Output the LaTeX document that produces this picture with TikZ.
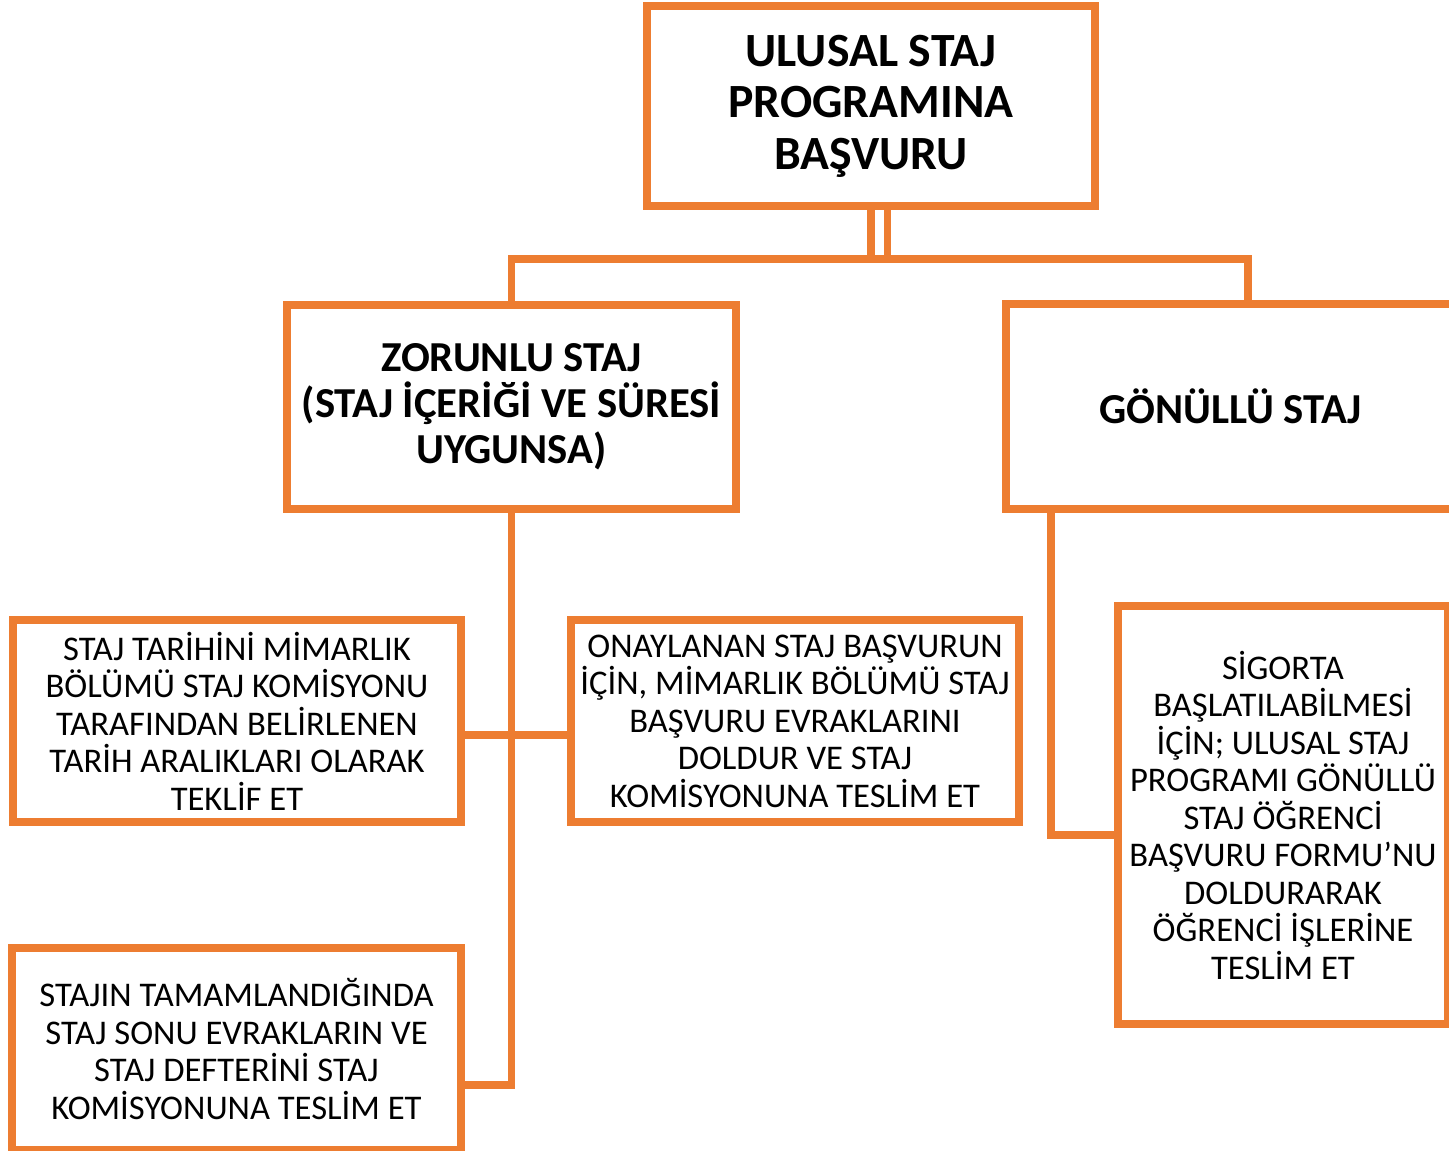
\documentclass[tikz,border=0pt]{standalone}
\usepackage{fontspec}
\setmainfont{Carlito}
\definecolor{acc}{HTML}{ED7D31}
\begin{document}
\begin{tikzpicture}[x=1pt,y=-1pt,
  box/.style={draw=acc,line width=7.5pt,fill=white,rectangle,outer sep=0pt,inner sep=0pt,align=center,text=black},
  big/.style={font=\bfseries\fontsize{47.7}{51.5}\selectfont},
  mid/.style={font=\bfseries\fontsize{42.7}{46}\selectfont},
  small/.style={font=\fontsize{34.6}{37.5}\selectfont},
  conn/.style={draw=acc,line width=7.5pt}]
\useasboundingbox (0,0) rectangle (1449,1151);
\node[box,big,minimum width=448pt,minimum height=200pt] (top) at (871,106) {ULUSAL STAJ\\PROGRAMINA\\BAŞVURU};
\node[box,mid,minimum width=449pt,minimum height=204pt] (zor) at (511.5,407) {ZORUNLU STAJ\\(STAJ İÇERİĞİ VE SÜRESİ\\UYGUNSA)};
\node[box,mid,minimum width=449pt,minimum height=205pt] (gon) at (1230.5,406.5) {GÖNÜLLÜ STAJ};
\node[box,small,minimum width=448pt,minimum height=202pt] (b1) at (237,721) {STAJ TARİHİNİ MİMARLIK\\BÖLÜMÜ STAJ KOMİSYONU\\TARAFINDAN BELİRLENEN\\TARİH ARALIKLARI OLARAK\\TEKLİF ET};
\node[box,small,minimum width=448pt,minimum height=202pt] (b2) at (795,721) {ONAYLANAN STAJ BAŞVURUN\\İÇİN, MİMARLIK BÖLÜMÜ STAJ\\BAŞVURU EVRAKLARINI\\DOLDUR VE STAJ\\KOMİSYONUNA TESLİM ET};
\node[box,small,minimum width=449pt,minimum height=202pt] (b3) at (236.5,1049) {STAJIN TAMAMLANDIĞINDA\\STAJ SONU EVRAKLARIN VE\\STAJ DEFTERİNİ STAJ\\KOMİSYONUNA TESLİM ET};
\node[box,small,minimum width=330pt,minimum height=418pt] (b4) at (1283,815) {SİGORTA\\BAŞLATILABİLMESİ\\İÇİN; ULUSAL STAJ\\PROGRAMI GÖNÜLLÜ\\STAJ ÖĞRENCİ\\BAŞVURU FORMU’NU\\DOLDURARAK\\ÖĞRENCİ İŞLERİNE\\TESLİM ET};
\coordinate (hy) at (0,259);
\draw[conn] (top.south) -- (top.south |- hy) -| (zor.north);
\draw[conn] ([xshift=16.5pt]top.south) -- ([xshift=16.5pt]top.south |- hy);
\draw[conn] (top.south |- hy) -| ([xshift=17.5pt]gon.north);
\draw[conn] (zor.south) |- ([yshift=-36pt]b3.east);
\draw[conn] ([yshift=-14pt]b1.east) -- ([yshift=-14pt]b2.west);
\draw[conn] ([xshift=-179.5pt]gon.south) |- ([yshift=-20pt]b4.west);
\end{tikzpicture}
\end{document}
